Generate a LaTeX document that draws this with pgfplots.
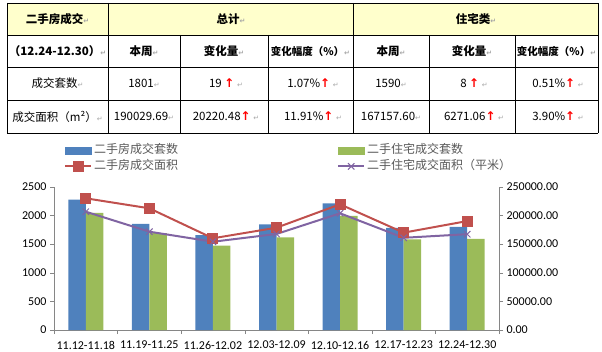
\documentclass[border=0pt]{standalone}
\usepackage{fontspec}
\usepackage{pgfplots}
\pgfplotsset{compat=1.18}
\setmainfont{Carlito}
\newfontfamily\cjk{Noto Sans CJK SC}
\newfontfamily\dejavu{DejaVu Sans}
\definecolor{barblue}{HTML}{4F81BD}
\definecolor{bargreen}{HTML}{9BBB59}
\definecolor{linered}{HTML}{C0504D}
\definecolor{linepurple}{HTML}{8064A2}
\definecolor{hdryellow}{HTML}{FFFFCC}
\definecolor{axisgray}{HTML}{868686}
\definecolor{legtext}{HTML}{595959}
\newcommand{\parmark}{{\color{gray!70}\dejavu\fontsize{7}{7}\selectfont ↵}}
\newcommand{\up}{{\color{red}\dejavu\bfseries\fontsize{12}{12}\selectfont ↑}}
\pgfplotsset{
  lineleg/.style={legend image code/.code={\draw[mark repeat=2,mark phase=2,##1] plot coordinates {(0pt,0pt)(13pt,0pt)(26pt,0pt)};}},
  boxleg/.style={legend image code/.code={\fill[#1] (0pt,-3.5pt) rectangle (26pt,3.5pt);}},
}
\begin{document}
\begin{tikzpicture}[x=1pt,y=1pt]
\useasboundingbox (0,0) rectangle (602,351);
% ---------- table ----------
\fill[hdryellow] (7,316) rectangle (598,348);
\draw[black,line width=0.8pt] (7,348) -- (598,348);
\foreach \yy in {316,284,251,218} {\draw[black,line width=0.8pt] (7,\yy) -- (598,\yy);}
\foreach \xx in {7,108,353,598} {\draw[black,line width=0.8pt] (\xx,348) -- (\xx,218);}
\foreach \xx in {180,268,429,515} {\draw[black,line width=0.8pt] (\xx,316) -- (\xx,218);}
\tikzset{cell/.style={inner sep=0pt,anchor=center,font=\cjk\fontsize{11.5}{12}\selectfont},
         hcell/.style={inner sep=0pt,anchor=center,font=\cjk\bfseries\fontsize{11.5}{12}\selectfont},
         scell/.style={inner sep=0pt,anchor=center,font=\cjk\bfseries\fontsize{10.5}{12}\selectfont}}
% row 1
\node[hcell] at (57.5,332) {二手房成交\parmark};
\node[hcell] at (231,332) {总计\parmark};
\node[hcell] at (476,332) {住宅类\parmark};
% row 2
\node[hcell] at (57.5,300) {（12.24-12.30）\parmark};
\node[hcell] at (144,300) {本周\parmark};
\node[hcell] at (224,300) {变化量\parmark};
\node[scell] at (310.5,300) {变化幅度（\%）\parmark};
\node[hcell] at (391,300) {本周\parmark};
\node[hcell] at (472,300) {变化量\parmark};
\node[scell] at (556.5,300) {变化幅度（\%）\parmark};
% row 3
\node[cell] at (57.5,267.5) {成交套数\parmark};
\node[cell] at (144,267.5) {1801\parmark};
\node[cell] at (226,267.5) {19 \up\ \parmark};
\node[cell] at (313,267.5) {1.07\%\up\ \parmark};
\node[cell] at (391,267.5) {1590\parmark};
\node[cell] at (474,267.5) {8 \up\ \parmark};
\node[cell] at (558,267.5) {0.51\%\up\ \parmark};
% row 4
\node[cell] at (57.5,234.5) {成交面积（m²）\parmark};
\node[cell] at (144,234.5) {190029.69\parmark};
\node[cell] at (226,234.5) {20220.48\up\ \parmark};
\node[cell] at (313,234.5) {11.91\%\up\ \parmark};
\node[cell] at (391,234.5) {167157.60\parmark};
\node[cell] at (474,234.5) {6271.06\up\ \parmark};
\node[cell] at (558,234.5) {3.90\%\up\ \parmark};
% ---------- chart ----------
\begin{axis}[
  at={(54pt,21pt)}, anchor=south west,
  scale only axis, width=445pt, height=143.3pt,
  xmin=-0.5, xmax=6.5, ymin=0, ymax=2500,
  enlargelimits=false,
  ybar=0pt, bar width=17.5pt,
  axis x line*=bottom, axis y line*=left,
  axis line style={draw=axisgray,-},
  xtick={0,...,6},
  xticklabels={11.12-11.18,11.19-11.25,11.26-12.02,12.03-12.09,12.10-12.16,12.17-12.23,12.24-12.30},
  xtick style={draw=none},
  minor xtick={-0.5,0.5,...,6.5},
  minor x tick style={draw=axisgray},
  minor tick length=4pt,
  ytick={0,500,...,2500},
  y tick style={draw=axisgray},
  major tick length=4pt,
  tick align=outside,
  tick label style={font=\fontsize{12}{12}\selectfont, /pgf/number format/assume math mode=true},
  xticklabel style={yshift=-3.5pt},
  /pgf/number format/1000 sep={},
]
\addplot[fill=barblue, draw=none] coordinates {(0,2275)(1,1850)(2,1657)(3,1844)(4,2210)(5,1782)(6,1801)};
\addplot[fill=bargreen, draw=none] coordinates {(0,2045)(1,1690)(2,1471)(3,1617)(4,1989)(5,1582)(6,1590)};
\end{axis}
\begin{axis}[
  at={(54pt,21pt)}, anchor=south west,
  scale only axis, width=445pt, height=143.3pt,
  xmin=-0.5, xmax=6.5, ymin=0, ymax=250000,
  enlargelimits=false,
  axis x line=none, axis y line*=right,
  axis line style={draw=axisgray,-},
  ytick={0,50000,...,250000},
  y tick style={draw=axisgray},
  major tick length=4pt,
  tick align=outside,
  scaled y ticks=false,
  yticklabel style={font=\fontsize{12}{12}\selectfont, /pgf/number format/.cd, fixed, fixed zerofill, precision=2, 1000 sep={}, assume math mode=true},
  legend columns=2,
  legend style={draw=none, fill=none, at={(0.0225,1.196)}, anchor=west, inner sep=0pt,
     font=\cjk\fontsize{12}{12}\selectfont, text=legtext,
     nodes={inner ysep=0.5pt, text height=10pt, text depth=4.5pt},
     /tikz/every even column/.append style={column sep=157pt}},
  legend cell align=left,
]
\addlegendimage{boxleg=barblue}
\addlegendentry{二手房成交套数}
\addlegendimage{boxleg=bargreen}
\addlegendentry{二手住宅成交套数}
\addplot[linered, line width=2pt, mark=square*, mark size=4.5pt, mark options={fill=linered, draw=linered}, lineleg]
  coordinates {(0,229750)(1,212300)(2,160000)(3,178500)(4,219300)(5,169809.21)(6,190029.69)};
\addlegendentry{二手房成交面积}
\addplot[linepurple, line width=2pt, mark=x, mark size=4.5pt, mark options={draw=linepurple, line width=1pt}, lineleg]
  coordinates {(0,206400)(1,171500)(2,154000)(3,167500)(4,203600)(5,160886.54)(6,167157.60)};
\addlegendentry{二手住宅成交面积（平米）}
\end{axis}
\end{tikzpicture}
\end{document}
